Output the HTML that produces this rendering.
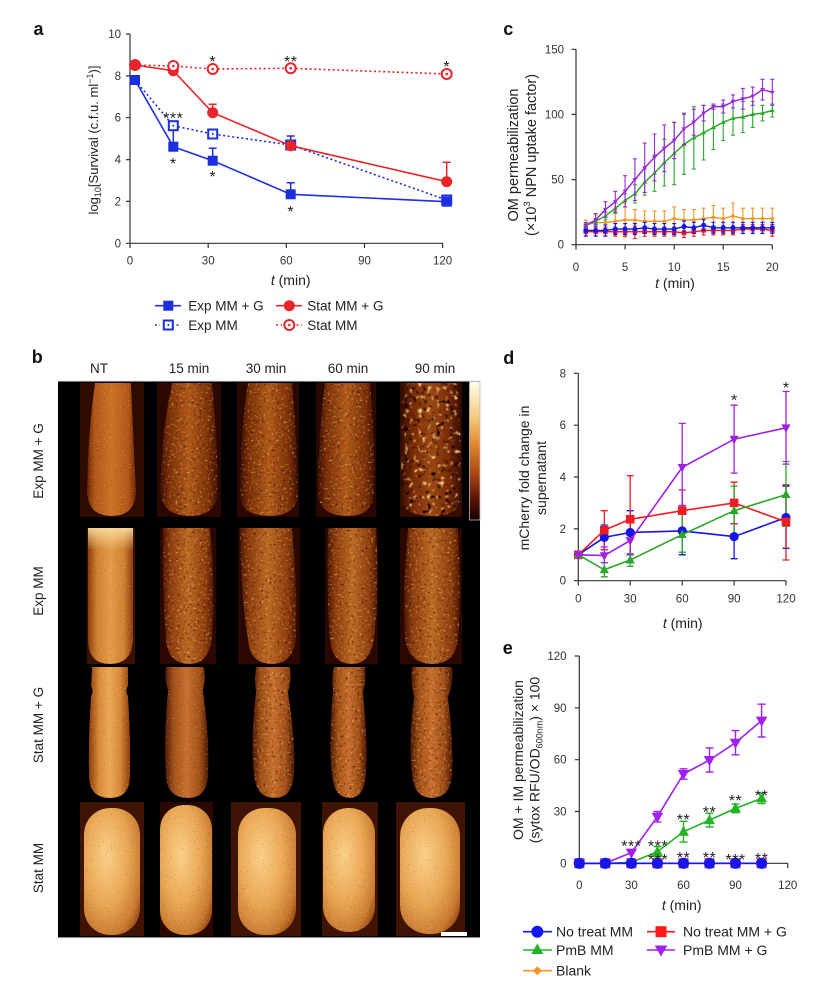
<!DOCTYPE html>
<html><head><meta charset="utf-8">
<style>
html,body{margin:0;padding:0;background:#fff;}
body{width:828px;height:998px;overflow:hidden;}
svg{display:block;font-family:"Liberation Sans",Arial,sans-serif;}
</style></head>
<body>
<svg width="828" height="998" viewBox="0 0 828 998" xmlns="http://www.w3.org/2000/svg">
<defs>
  <linearGradient id="gNT1" x1="0" x2="1" y1="0" y2="0">
    <stop offset="0" stop-color="#6a2404"/><stop offset="0.15" stop-color="#b45818"/><stop offset="0.5" stop-color="#d07626"/><stop offset="0.85" stop-color="#b45818"/><stop offset="1" stop-color="#6a2404"/>
  </linearGradient>
  <linearGradient id="gT" x1="0" x2="1" y1="0" y2="0">
    <stop offset="0" stop-color="#3a0e02"/><stop offset="0.15" stop-color="#7a3008"/><stop offset="0.5" stop-color="#b05a1a"/><stop offset="0.85" stop-color="#7a3008"/><stop offset="1" stop-color="#3a0e02"/>
  </linearGradient>
  <linearGradient id="gT2" x1="0" x2="1" y1="0" y2="0">
    <stop offset="0" stop-color="#4a1604"/><stop offset="0.15" stop-color="#8c3c0e"/><stop offset="0.5" stop-color="#bc6a24"/><stop offset="0.85" stop-color="#8c3c0e"/><stop offset="1" stop-color="#4a1604"/>
  </linearGradient>
  <linearGradient id="gT90" x1="0" x2="1" y1="0" y2="0">
    <stop offset="0" stop-color="#3a0e02"/><stop offset="0.2" stop-color="#7a2c08"/><stop offset="0.5" stop-color="#9a4812"/><stop offset="0.8" stop-color="#7a2c08"/><stop offset="1" stop-color="#3a0e02"/>
  </linearGradient>
  <linearGradient id="gNT2" x1="0" x2="1" y1="0" y2="0">
    <stop offset="0" stop-color="#8a3a0a"/><stop offset="0.2" stop-color="#d08030"/><stop offset="0.5" stop-color="#e29c4a"/><stop offset="0.8" stop-color="#d08030"/><stop offset="1" stop-color="#8a3a0a"/>
  </linearGradient>
  <linearGradient id="gTop" x1="0" x2="0" y1="0" y2="1">
    <stop offset="0" stop-color="#fbe0a0" stop-opacity="0.9"/><stop offset="1" stop-color="#fbe0a0" stop-opacity="0"/>
  </linearGradient>
  <linearGradient id="gNT3" x1="0" x2="1" y1="0" y2="0">
    <stop offset="0" stop-color="#8a3a0a"/><stop offset="0.25" stop-color="#d88a38"/><stop offset="0.5" stop-color="#eca858"/><stop offset="0.75" stop-color="#d88a38"/><stop offset="1" stop-color="#8a3a0a"/>
  </linearGradient>
  <linearGradient id="gT3" x1="0" x2="1" y1="0" y2="0">
    <stop offset="0" stop-color="#4a1604"/><stop offset="0.2" stop-color="#a05018"/><stop offset="0.5" stop-color="#c87030"/><stop offset="0.8" stop-color="#a05018"/><stop offset="1" stop-color="#4a1604"/>
  </linearGradient>
  <radialGradient id="gB" cx="0.4" cy="0.38" r="0.75">
    <stop offset="0" stop-color="#fad08a"/><stop offset="0.5" stop-color="#eaa856"/><stop offset="0.85" stop-color="#c87a30"/><stop offset="1" stop-color="#9a4a14"/>
  </radialGradient>
  <linearGradient id="gCB" x1="0" x2="0" y1="0" y2="1">
    <stop offset="0" stop-color="#fffcee"/><stop offset="0.25" stop-color="#f6cc80"/><stop offset="0.45" stop-color="#e08a30"/><stop offset="0.65" stop-color="#b04a14"/><stop offset="0.85" stop-color="#5a1404"/><stop offset="1" stop-color="#120000"/>
  </linearGradient>

  <filter id="fA" x="-5%" y="-5%" width="110%" height="110%" color-interpolation-filters="sRGB">
    <feTurbulence type="fractalNoise" baseFrequency="0.5" numOctaves="2" seed="5"/>
    <feGaussianBlur stdDeviation="0.45" result="t"/>
    <feColorMatrix in="t" type="matrix" values="0 0 0 0 0 0 0 0 0 0 0 0 0 0 0 4 0 0 0 -2.2" result="hi"/>
    <feFlood flood-color="#f2b865"/>
    <feComposite in2="hi" operator="in" result="hic"/>
    <feColorMatrix in="t" type="matrix" values="0 0 0 0 0 0 0 0 0 0 0 0 0 0 0 0 -4 0 0 1.8" result="lo"/>
    <feFlood flood-color="#3a0c00"/>
    <feComposite in2="lo" operator="in" result="loc"/>
    <feMerge><feMergeNode in="SourceGraphic"/><feMergeNode in="loc"/><feMergeNode in="hic"/></feMerge>
    <feComposite in2="SourceAlpha" operator="in"/>
  </filter>
  <filter id="fC" x="-5%" y="-5%" width="110%" height="110%" color-interpolation-filters="sRGB">
    <feTurbulence type="fractalNoise" baseFrequency="0.22" numOctaves="2" seed="9"/>
    <feGaussianBlur stdDeviation="0.6" result="t"/>
    <feColorMatrix in="t" type="matrix" values="0 0 0 0 0 0 0 0 0 0 0 0 0 0 0 5 0 0 0 -2.85" result="hi"/>
    <feFlood flood-color="#f3c47a"/>
    <feComposite in2="hi" operator="in" result="hic"/>
    <feColorMatrix in="t" type="matrix" values="0 0 0 0 0 0 0 0 0 0 0 0 0 0 0 0 -5 0 0 2.2" result="lo"/>
    <feFlood flood-color="#1a0400"/>
    <feComposite in2="lo" operator="in" result="loc"/>
    <feMerge><feMergeNode in="SourceGraphic"/><feMergeNode in="loc"/><feMergeNode in="hic"/></feMerge>
    <feComposite in2="SourceAlpha" operator="in"/>
  </filter>
  <filter id="fL" x="-5%" y="-5%" width="110%" height="110%" color-interpolation-filters="sRGB">
    <feTurbulence type="fractalNoise" baseFrequency="0.7" numOctaves="1" seed="2"/>
    <feGaussianBlur stdDeviation="0.35" result="t"/>
    <feColorMatrix in="t" type="matrix" values="0 0 0 0 0 0 0 0 0 0 0 0 0 0 0 2.5 0 0 0 -1.55" result="hi"/>
    <feFlood flood-color="#ffe2a8"/>
    <feComposite in2="hi" operator="in" result="hic"/>
    <feColorMatrix in="t" type="matrix" values="0 0 0 0 0 0 0 0 0 0 0 0 0 0 0 0 -3.5 0 0 1.15" result="lo"/>
    <feFlood flood-color="#6a2a08"/>
    <feComposite in2="lo" operator="in" result="loc"/>
    <feMerge><feMergeNode in="SourceGraphic"/><feMergeNode in="loc"/><feMergeNode in="hic"/></feMerge>
    <feComposite in2="SourceAlpha" operator="in"/>
  </filter>

  <marker id="mcP" viewBox="-4 -4 8 8" markerWidth="8" markerHeight="8" markerUnits="userSpaceOnUse"><path d="M0 2.6L2.4 -1.6L-2.4 -1.6Z" fill="#9a28d8"/></marker>
  <marker id="mcG" viewBox="-4 -4 8 8" markerWidth="8" markerHeight="8" markerUnits="userSpaceOnUse"><path d="M0 -2.6L2.4 1.6L-2.4 1.6Z" fill="#2aa82a"/></marker>
  <marker id="mcO" viewBox="-4 -4 8 8" markerWidth="8" markerHeight="8" markerUnits="userSpaceOnUse"><path d="M0 -2.4L2.4 0L0 2.4L-2.4 0Z" fill="#f29422"/></marker>
  <marker id="mcB" viewBox="-4 -4 8 8" markerWidth="8" markerHeight="8" markerUnits="userSpaceOnUse"><circle r="2.5" fill="#1515e8"/></marker>
  <marker id="mcR" viewBox="-4 -4 8 8" markerWidth="8" markerHeight="8" markerUnits="userSpaceOnUse"><rect x="-2.3" y="-2.3" width="4.6" height="4.6" fill="#ee1c24"/></marker>
  <marker id="mdB" viewBox="-6 -6 12 12" markerWidth="12" markerHeight="12" markerUnits="userSpaceOnUse"><circle r="4.6" fill="#1515e8"/></marker>
  <marker id="mdR" viewBox="-6 -6 12 12" markerWidth="12" markerHeight="12" markerUnits="userSpaceOnUse"><rect x="-4.3" y="-4.3" width="8.6" height="8.6" fill="#ee1c24"/></marker>
  <marker id="mdG" viewBox="-6 -6 12 12" markerWidth="12" markerHeight="12" markerUnits="userSpaceOnUse"><path d="M0 -5L4.6 3.4L-4.6 3.4Z" fill="#2aa82a"/></marker>
  <marker id="mdP" viewBox="-6 -6 12 12" markerWidth="12" markerHeight="12" markerUnits="userSpaceOnUse"><path d="M0 5L4.6 -3.4L-4.6 -3.4Z" fill="#a020e0"/></marker>
  <marker id="meB" viewBox="-7 -7 14 14" markerWidth="14" markerHeight="14" markerUnits="userSpaceOnUse"><circle r="5.6" fill="#1515f0"/></marker>
  <marker id="meR" viewBox="-7 -7 14 14" markerWidth="14" markerHeight="14" markerUnits="userSpaceOnUse"><rect x="-5" y="-5" width="10" height="10" fill="#ff1a1a"/></marker>
  <marker id="meG" viewBox="-7 -7 14 14" markerWidth="14" markerHeight="14" markerUnits="userSpaceOnUse"><path d="M0 -6L5.4 4L-5.4 4Z" fill="#22b422"/></marker>
  <marker id="meP" viewBox="-7 -7 14 14" markerWidth="14" markerHeight="14" markerUnits="userSpaceOnUse"><path d="M0 6L5.8 -4L-5.8 -4Z" fill="#a020f0"/></marker>
</defs>

<rect width="828" height="998" fill="#fff"/>

<!-- ================= PANEL A ================= -->
<text x="33.5" y="35" font-size="18" font-weight="bold" fill="#111">a</text>
<g stroke="#333" stroke-width="1.2" fill="none">
  <path d="M130 34V243.3H443"/>
  <path d="M126 243.3H130M126 201.4H130M126 159.6H130M126 117.7H130M126 75.9H130M126 34H130"/>
  <path d="M130 243.3V248M208.2 243.3V248M286.3 243.3V248M364.5 243.3V248M442.6 243.3V248"/>
</g>
<g font-size="11.5" fill="#333" text-anchor="end">
  <text x="121" y="247.3">0</text><text x="121" y="205.4">2</text><text x="121" y="163.6">4</text><text x="121" y="121.7">6</text><text x="121" y="79.9">8</text><text x="121" y="38">10</text>
</g>
<g font-size="11.5" fill="#333" text-anchor="middle">
  <text x="130" y="264.5">0</text><text x="208.2" y="264.5">30</text><text x="286.3" y="264.5">60</text><text x="364.5" y="264.5">90</text><text x="442.6" y="264.5">120</text>
</g>
<text x="290.7" y="285" font-size="14" fill="#222" text-anchor="middle"><tspan font-style="italic">t</tspan> (min)</text>
<text transform="translate(98 140) rotate(-90)" font-size="13" fill="#222" text-anchor="middle">log<tspan font-size="9" dy="3">10</tspan><tspan dy="-3">[Survival (c.f.u. ml</tspan><tspan font-size="9" dy="-5">−1</tspan><tspan dy="5">)]</tspan></text>

<path d="M135 65L173.3 66L212.7 69L290.7 68.3L446.7 74" stroke="#e8252a" stroke-width="1.6" fill="none" stroke-dasharray="2 2.6"/>
<path d="M135 80L173.3 125.7L212.7 134L290.7 145L446.7 200" stroke="#1b2ee0" stroke-width="1.6" fill="none" stroke-dasharray="2 2.6"/>
<path d="M135 80L173.3 146.7L212.7 160.7L290.7 194.3L446.7 201.7" stroke="#1b2ee0" stroke-width="1.6" fill="none"/>
<path d="M135 65L173.3 70.7L212.7 112.7L290.7 145.7L446.7 181.7" stroke="#e8252a" stroke-width="1.6" fill="none"/>
<g stroke-width="1.5" fill="none">
  <path d="M212.7 160.7V148.3M208.7 148.3h8M290.7 194.3V182.7M286.7 182.7h8" stroke="#1b2ee0"/>
  <path d="M173.3 125.7V146M290.7 145V136M286.7 136h8" stroke="#1b2ee0"/>
  <path d="M212.7 112.7V104.3M208.7 104.3h8M446.7 181.7V162.3M442.7 162.3h8" stroke="#e8252a"/>
</g>
<g fill="#fff" stroke="#1b2ee0" stroke-width="2">
  <rect x="168.8" y="121.2" width="9" height="9"/><rect x="208.2" y="129.5" width="9" height="9"/><rect x="286.2" y="140.5" width="9" height="9"/><rect x="442.2" y="195.5" width="9" height="9"/>
</g>
<g fill="#1b2ee0">
  <circle cx="173.3" cy="125.7" r="1"/><circle cx="212.7" cy="134" r="1"/>
  <rect x="130" y="75" width="10" height="10"/><rect x="168.3" y="141.7" width="10" height="10"/><rect x="207.7" y="155.7" width="10" height="10"/><rect x="285.7" y="189.3" width="10" height="10"/><rect x="441.7" y="196.7" width="10" height="10"/>
</g>
<g fill="#e8252a">
  <circle cx="173.3" cy="70.7" r="5.5"/><circle cx="212.7" cy="112.7" r="5.5"/><circle cx="290.7" cy="145.7" r="5.5"/><circle cx="446.7" cy="181.7" r="5.5"/>
</g>
<g fill="#fff" stroke="#e8252a" stroke-width="2">
  <circle cx="173.3" cy="66" r="5"/><circle cx="212.7" cy="69" r="5"/><circle cx="290.7" cy="68.3" r="5"/><circle cx="446.7" cy="74" r="5"/>
</g>
<g fill="#e8252a">
  <circle cx="173.3" cy="66" r="1.3"/><circle cx="212.7" cy="69" r="1.3"/><circle cx="290.7" cy="68.3" r="1.3"/><circle cx="446.7" cy="74" r="1.3"/>
  <circle cx="135" cy="65" r="6"/>
</g>
<g font-size="16" fill="#222" text-anchor="middle" letter-spacing="0.5">
  <text x="212.7" y="67">*</text><text x="290.7" y="67">**</text><text x="446.7" y="72">*</text>
  <text x="173.3" y="123.3">***</text><text x="173.3" y="169">*</text><text x="212.7" y="182">*</text><text x="290.7" y="217">*</text>
</g>
<path d="M155 305.7H181" stroke="#1b2ee0" stroke-width="1.6"/>
<rect x="163.3" y="300.7" width="10" height="10" fill="#1b2ee0"/>
<text x="188.3" y="310.5" font-size="13.5" fill="#222">Exp MM + G</text>
<path d="M276 305.7H302" stroke="#e8252a" stroke-width="1.6"/>
<circle cx="289.3" cy="305.7" r="5.5" fill="#e8252a"/>
<text x="307.3" y="310.5" font-size="13.5" fill="#222">Stat MM + G</text>
<path d="M155 325H160M176.5 325H181" stroke="#1b2ee0" stroke-width="1.6" stroke-dasharray="2 2.6"/>
<rect x="163.8" y="320.5" width="9" height="9" fill="#fff" stroke="#1b2ee0" stroke-width="2"/>
<circle cx="168.3" cy="325" r="1" fill="#1b2ee0"/>
<text x="188.3" y="329.8" font-size="13.5" fill="#222">Exp MM</text>
<path d="M276 325H282M296.5 325H302" stroke="#e8252a" stroke-width="1.6" stroke-dasharray="2 2.6"/>
<circle cx="289.3" cy="325" r="5" fill="#fff" stroke="#e8252a" stroke-width="2"/>
<circle cx="289.3" cy="325" r="1.3" fill="#e8252a"/>
<text x="307.3" y="329.8" font-size="13.5" fill="#222">Stat MM</text>

<!-- ================= PANEL C ================= -->
<text x="503.3" y="35" font-size="18" font-weight="bold" fill="#111">c</text>
<g stroke="#333" stroke-width="1.2" fill="none">
  <path d="M576 49.3V244.7H772.3"/>
  <path d="M571.5 244.7H576M571.5 179.6H576M571.5 114.4H576M571.5 49.3H576"/>
  <path d="M576 244.7V249.5M625.1 244.7V249.5M674.2 244.7V249.5M723.2 244.7V249.5M772.3 244.7V249.5"/>
</g>
<g font-size="11.5" fill="#333" text-anchor="end">
  <text x="564" y="248.7">0</text><text x="564" y="183.6">50</text><text x="564" y="118.4">100</text><text x="564" y="53.3">150</text>
</g>
<g font-size="11.5" fill="#333" text-anchor="middle">
  <text x="576" y="271">0</text><text x="625.1" y="271">5</text><text x="674.2" y="271">10</text><text x="723.2" y="271">15</text><text x="772.3" y="271">20</text>
</g>
<text x="675" y="288" font-size="14" fill="#222" text-anchor="middle"><tspan font-style="italic">t</tspan> (min)</text>
<text transform="translate(518 155) rotate(-90)" font-size="14.5" fill="#222" text-anchor="middle">OM permeabilization</text>
<text transform="translate(536 155) rotate(-90)" font-size="14.5" fill="#222" text-anchor="middle">(×10<tspan font-size="9.5" dy="-6">3</tspan><tspan dy="6"> NPN uptake factor)</tspan></text>

<path d="M585.8 220.2V230.2m-2 0h4M583.8 220.2h4M595.6 214.8V230.4m-2 0h4M593.6 214.8h4M605.4 212.2V233m-2 0h4M603.4 212.2h4M615.3 210.9V231.7m-2 0h4M613.3 210.9h4M625.1 203V237m-2 0h4M623.1 203h4M634.9 209.6V230.4m-2 0h4M632.9 209.6h4M644.7 210.9V231.7m-2 0h4M642.7 210.9h4M654.5 210.9V231.7m-2 0h4M652.5 210.9h4M664.3 210.9V231.7m-2 0h4M662.3 210.9h4M674.2 206.9V230.3m-2 0h4M672.2 206.9h4M684 209.6V230.4m-2 0h4M682 209.6h4M693.8 209.6V230.4m-2 0h4M691.8 209.6h4M703.6 208.2V229m-2 0h4M701.6 208.2h4M713.4 205.6V229m-2 0h4M711.4 205.6h4M723.2 208.2V229m-2 0h4M721.2 208.2h4M733 203V229m-2 0h4M731 203h4M742.9 208.2V229m-2 0h4M740.9 208.2h4M752.7 208.2V229m-2 0h4M750.7 208.2h4M762.5 208.2V229m-2 0h4M760.5 208.2h4M772.3 208.2V229m-2 0h4M770.3 208.2h4" stroke="#f29422" stroke-width="1.1" fill="none"/>
<path d="M585.8 225.2L595.6 222.6L605.4 222.6L615.3 221.3L625.1 220L634.9 220L644.7 221.3L654.5 221.3L664.3 221.3L674.2 218.6L684 220L693.8 220L703.6 218.6L713.4 217.3L723.2 218.6L733 216L742.9 218.6L752.7 218.6L762.5 218.6L772.3 218.6" stroke="#f29422" stroke-width="1.4" fill="none" marker-start="url(#mcO)" marker-mid="url(#mcO)" marker-end="url(#mcO)"/>
<path d="M585.8 227.2V236.2m-2 0h4M583.8 227.2h4M595.6 227.2V236.2m-2 0h4M593.6 227.2h4M605.4 227.2V236.2m-2 0h4M603.4 227.2h4M615.3 227.2V236.2m-2 0h4M613.3 227.2h4M625.1 227.2V236.2m-2 0h4M623.1 227.2h4M634.9 226V238.5m-2 0h4M632.9 226h4M644.7 227.2V236.2m-2 0h4M642.7 227.2h4M654.5 227.2V236.2m-2 0h4M652.5 227.2h4M664.3 227.2V236.2m-2 0h4M662.3 227.2h4M674.2 227.2V236.2m-2 0h4M672.2 227.2h4M684 228.5V237.5m-2 0h4M682 228.5h4M693.8 227.2V236.2m-2 0h4M691.8 227.2h4M703.6 225.9V234.9m-2 0h4M701.6 225.9h4M713.4 225.9V234.9m-2 0h4M711.4 225.9h4M723.2 225.9V234.9m-2 0h4M721.2 225.9h4M733 225.9V234.9m-2 0h4M731 225.9h4M742.9 224.6V233.6m-2 0h4M740.9 224.6h4M752.7 224.6V233.6m-2 0h4M750.7 224.6h4M762.5 224.6V233.6m-2 0h4M760.5 224.6h4M772.3 224.6V236.2m-2 0h4M770.3 224.6h4" stroke="#ee1c24" stroke-width="1.1" fill="none"/>
<path d="M585.8 231.7L595.6 231.7L605.4 231.7L615.3 231.7L625.1 231.7L634.9 231.7L644.7 231.7L654.5 231.7L664.3 231.7L674.2 231.7L684 233L693.8 231.7L703.6 230.4L713.4 230.4L723.2 230.4L733 230.4L742.9 229.1L752.7 229.1L762.5 229.1L772.3 230.4" stroke="#ee1c24" stroke-width="1.4" fill="none" marker-start="url(#mcR)" marker-mid="url(#mcR)" marker-end="url(#mcR)"/>
<path d="M585.8 224.9V235.9m-2 0h4M583.8 224.9h4M595.6 224.9V235.9m-2 0h4M593.6 224.9h4M605.4 224.9V235.9m-2 0h4M603.4 224.9h4M615.3 223.6V234.6m-2 0h4M613.3 223.6h4M625.1 223.6V234.6m-2 0h4M623.1 223.6h4M634.9 223.6V234.6m-2 0h4M632.9 223.6h4M644.7 222.3V233.3m-2 0h4M642.7 222.3h4M654.5 223.6V234.6m-2 0h4M652.5 223.6h4M664.3 223.6V234.6m-2 0h4M662.3 223.6h4M674.2 223.6V234.6m-2 0h4M672.2 223.6h4M684 221V232m-2 0h4M682 221h4M693.8 222.3V233.3m-2 0h4M691.8 222.3h4M703.6 219.7V230.7m-2 0h4M701.6 219.7h4M713.4 222.3V233.3m-2 0h4M711.4 222.3h4M723.2 222.3V233.3m-2 0h4M721.2 222.3h4M733 222.3V233.3m-2 0h4M731 222.3h4M742.9 222.3V233.3m-2 0h4M740.9 222.3h4M752.7 222.3V233.3m-2 0h4M750.7 222.3h4M762.5 222.3V233.3m-2 0h4M760.5 222.3h4M772.3 222.3V233.3m-2 0h4M770.3 222.3h4" stroke="#1515e8" stroke-width="1.1" fill="none"/>
<path d="M585.8 230.4L595.6 230.4L605.4 230.4L615.3 229.1L625.1 229.1L634.9 229.1L644.7 227.8L654.5 229.1L664.3 229.1L674.2 229.1L684 226.5L693.8 227.8L703.6 225.2L713.4 227.8L723.2 227.8L733 227.8L742.9 227.8L752.7 227.8L762.5 227.8L772.3 227.8" stroke="#1515e8" stroke-width="1.4" fill="none" marker-start="url(#mcB)" marker-mid="url(#mcB)" marker-end="url(#mcB)"/>
<path d="M585.8 222.6V227.8m-2 0h4M583.8 222.6h4M595.6 218.6V223.8m-2 0h4M593.6 218.6h4M605.4 212.1V219.9m-2 0h4M603.4 212.1h4M615.3 203V213.4m-2 0h4M613.3 203h4M625.1 193.9V206.9m-2 0h4M623.1 193.9h4M634.9 184.8V203m-2 0h4M632.9 184.8h4M644.7 169.2V195.2m-2 0h4M642.7 169.2h4M654.5 154.9V191.3m-2 0h4M652.5 154.9h4M664.3 139.2V186m-2 0h4M662.3 139.2h4M674.2 122.3V184.7m-2 0h4M672.2 122.3h4M684 114.5V174.3m-2 0h4M682 114.5h4M693.8 106.7V169.1m-2 0h4M691.8 106.7h4M703.6 105.4V160m-2 0h4M701.6 105.4h4M713.4 105.4V149.6m-2 0h4M711.4 105.4h4M723.2 104.1V140.5m-2 0h4M721.2 104.1h4M733 101.4V135.2m-2 0h4M731 101.4h4M742.9 101.4V132.6m-2 0h4M740.9 101.4h4M752.7 101.4V127.4m-2 0h4M750.7 101.4h4M762.5 105.3V120.9m-2 0h4M760.5 105.3h4M772.3 104V117m-2 0h4M770.3 104h4" stroke="#2aa82a" stroke-width="1.1" fill="none"/>
<path d="M585.8 225.2L595.6 221.2L605.4 216L615.3 208.2L625.1 200.4L634.9 193.9L644.7 182.2L654.5 173.1L664.3 162.6L674.2 153.5L684 144.4L693.8 137.9L703.6 132.7L713.4 127.5L723.2 122.3L733 118.3L742.9 117L752.7 114.4L762.5 113.1L772.3 110.5" stroke="#2aa82a" stroke-width="1.5" fill="none" marker-start="url(#mcG)" marker-mid="url(#mcG)" marker-end="url(#mcG)"/>
<path d="M585.8 222.6V227.8m-2 0h4M583.8 222.6h4M595.6 213.5V226.5m-2 0h4M593.6 213.5h4M605.4 201.7V217.3m-2 0h4M603.4 201.7h4M615.3 191.3V212.1m-2 0h4M613.3 191.3h4M625.1 175.7V206.9m-2 0h4M623.1 175.7h4M634.9 158.8V200.4m-2 0h4M632.9 158.8h4M644.7 143.1V192.5m-2 0h4M642.7 143.1h4M654.5 134V180.8m-2 0h4M652.5 134h4M664.3 124.9V171.7m-2 0h4M662.3 124.9h4M674.2 122.3V158.7m-2 0h4M672.2 122.3h4M684 113.2V144.4m-2 0h4M682 113.2h4M693.8 109.2V135.2m-2 0h4M691.8 109.2h4M703.6 105.3V120.9m-2 0h4M701.6 105.3h4M713.4 104V109.2m-2 0h4M711.4 104h4M723.2 100.1V113.1m-2 0h4M721.2 100.1h4M733 94.9V107.9m-2 0h4M731 94.9h4M742.9 88.4V109.2m-2 0h4M740.9 88.4h4M752.7 87.1V105.3m-2 0h4M750.7 87.1h4M762.5 79.3V100.1m-2 0h4M760.5 79.3h4M772.3 79.3V105.3m-2 0h4M770.3 79.3h4" stroke="#9a28d8" stroke-width="1.1" fill="none"/>
<path d="M585.8 225.2L595.6 220L605.4 209.5L615.3 201.7L625.1 191.3L634.9 179.6L644.7 167.8L654.5 157.4L664.3 148.3L674.2 140.5L684 128.8L693.8 122.2L703.6 113.1L713.4 106.6L723.2 106.6L733 101.4L742.9 98.8L752.7 96.2L762.5 89.7L772.3 92.3" stroke="#9a28d8" stroke-width="1.5" fill="none" marker-start="url(#mcP)" marker-mid="url(#mcP)" marker-end="url(#mcP)"/>

<!-- ================= PANEL B ================= -->
<text x="31.7" y="363" font-size="18" font-weight="bold" fill="#111">b</text>
<g font-size="13.5" fill="#222" text-anchor="middle">
  <text x="99" y="373">NT</text><text x="189" y="373">15 min</text><text x="266" y="373">30 min</text><text x="348" y="373">60 min</text><text x="435" y="373">90 min</text>
</g>
<g font-size="13.5" fill="#222" text-anchor="middle">
  <text transform="translate(43 461) rotate(-90)">Exp MM + G</text>
  <text transform="translate(43 591) rotate(-90)">Exp MM</text>
  <text transform="translate(43 725) rotate(-90)">Stat MM + G</text>
  <text transform="translate(43 868) rotate(-90)">Stat MM</text>
</g>
<rect x="58" y="381" width="422" height="557" fill="#000"/>
<path d="M58 381.3H480" stroke="#999" stroke-width="0.8"/>
<path d="M58 937.7H480" stroke="#bbb" stroke-width="0.8"/>
<rect x="80" y="383" width="64" height="134" fill="#2e0a01"/>
<rect x="157" y="383" width="64" height="134" fill="#2a0801"/>
<rect x="237" y="383" width="62" height="134" fill="#2a0801"/>
<rect x="316" y="383" width="60" height="134" fill="#2a0801"/>
<rect x="400" y="383" width="62" height="134" fill="#340c02"/>
<path d="M95 383L131 383Q134 450 136 490Q136 516 112 516Q87 516 87 490Q88 430 95 383Z" fill="url(#gNT1)" filter="url(#fL)" opacity="0.97"/>
<path d="M172 383L212 383Q218 450 218 490Q217 516 190 516Q161 516 160 490Q162 430 172 383Z" fill="url(#gT)" filter="url(#fA)"/>
<path d="M248 383L292 383Q298 450 298 495Q296 516 270 516Q240 516 240 495Q240 430 248 383Z" fill="url(#gT)" filter="url(#fA)"/>
<path d="M325 383L370 383Q376 450 374 495Q372 516 348 516Q320 516 318 495Q318 430 325 383Z" fill="url(#gT)" filter="url(#fA)"/>
<path d="M404 383L458 383Q462 450 460 500Q458 516 432 516Q404 516 402 500Q400 430 404 383Z" fill="url(#gT90)" filter="url(#fC)"/>
<rect x="87" y="528" width="48" height="136" fill="#3a1204"/>
<rect x="160" y="528" width="56" height="136" fill="#2a0801"/>
<rect x="238" y="528" width="62" height="136" fill="#2a0801"/>
<rect x="325" y="528" width="53" height="136" fill="#2a0801"/>
<rect x="400" y="528" width="62" height="136" fill="#2a0801"/>
<path d="M88 528L133 528L133 640Q132 664 110 664Q88 664 88 640Z" fill="url(#gNT2)" filter="url(#fL)"/>
<rect x="88" y="528" width="45" height="22" fill="url(#gTop)"/>
<path d="M163 528L210 528Q216 590 212 640Q208 664 190 664Q168 664 166 640Q162 590 163 528Z" fill="url(#gT2)" filter="url(#fA)"/>
<path d="M240 528L292 528Q298 590 296 640Q292 664 272 664Q250 664 248 640Q240 590 240 528Z" fill="url(#gT2)" filter="url(#fA)"/>
<path d="M328 528L376 528Q380 590 374 640Q370 664 352 664Q332 664 330 640Q326 590 328 528Z" fill="url(#gT2)" filter="url(#fA)"/>
<path d="M408 528L458 528Q462 590 458 640Q455 664 432 664Q410 664 405 640Q402 590 408 528Z" fill="url(#gT2)" filter="url(#fA)"/>
<path d="M92 667H128V686Q125 691 128 696Q131 740 130 778Q129 798 110 798Q90 798 89 778Q88 740 91 696Q94 691 91 686Z" fill="url(#gNT3)" filter="url(#fL)"/>
<path d="M166 667H204Q206 680 203 690Q210 740 208 778Q206 798 188 798Q168 798 166 778Q163 740 168 690Q164 680 166 667Z" fill="url(#gT3)" filter="url(#fL)"/>
<path d="M256 667H290Q292 680 288 692Q296 740 294 775Q292 798 275 798Q256 798 254 775Q250 740 256 692Q254 680 256 667Z" fill="url(#gT3)" filter="url(#fA)"/>
<path d="M334 667H365Q367 680 363 692Q368 740 366 775Q364 798 350 798Q334 798 332 775Q328 740 333 692Q331 680 334 667Z" fill="url(#gT3)" filter="url(#fA)"/>
<path d="M412 667H452Q454 682 448 697Q454 740 452 775Q450 798 432 798Q414 798 412 775Q408 740 414 697Q410 682 412 667Z" fill="url(#gT3)" filter="url(#fA)"/>
<rect x="80" y="802" width="64" height="134" fill="#401404"/>
<rect x="160" y="802" width="53" height="134" fill="#2a0801"/>
<rect x="231" y="802" width="70" height="134" fill="#401404"/>
<rect x="322" y="802" width="56" height="134" fill="#401404"/>
<rect x="396" y="802" width="69" height="134" fill="#401404"/>
<rect x="84" y="808" width="56" height="127" rx="26" fill="url(#gB)" filter="url(#fL)"/>
<rect x="160" y="805" width="52" height="130" rx="24" fill="url(#gB)" filter="url(#fL)"/>
<rect x="238" y="808" width="58" height="127" rx="26" fill="url(#gB)" filter="url(#fL)"/>
<rect x="323" y="808" width="52" height="124" rx="25" fill="url(#gB)" filter="url(#fL)"/>
<rect x="400" y="808" width="60" height="126" rx="28" fill="url(#gB)" filter="url(#fL)"/>
<rect x="441" y="932" width="26" height="4" fill="#fff"/>
<rect x="469.5" y="381.5" width="10.5" height="138.5" fill="url(#gCB)" stroke="#bbb" stroke-width="0.8"/>

<!-- ================= PANEL D ================= -->
<text x="503.3" y="364" font-size="18" font-weight="bold" fill="#111">d</text>
<g stroke="#333" stroke-width="1.2" fill="none">
  <path d="M578.3 373.3V580.7H786"/>
  <path d="M573.8 580.7H578.3M573.8 528.9H578.3M573.8 477H578.3M573.8 425.2H578.3M573.8 373.3H578.3"/>
  <path d="M578.3 580.7V585.5M630.2 580.7V585.5M682.2 580.7V585.5M734.1 580.7V585.5M786 580.7V585.5"/>
</g>
<g font-size="11.5" fill="#333" text-anchor="end">
  <text x="566" y="584.7">0</text><text x="566" y="532.9">2</text><text x="566" y="481">4</text><text x="566" y="429.2">6</text><text x="566" y="377.3">8</text>
</g>
<g font-size="11.5" fill="#333" text-anchor="middle">
  <text x="578.3" y="602.3">0</text><text x="630.2" y="602.3">30</text><text x="682.2" y="602.3">60</text><text x="734.1" y="602.3">90</text><text x="786" y="602.3">120</text>
</g>
<text x="682.7" y="628" font-size="14" fill="#222" text-anchor="middle"><tspan font-style="italic">t</tspan> (min)</text>
<text transform="translate(529 478) rotate(-90)" font-size="14" fill="#222" text-anchor="middle">mCherry fold change in</text>
<text transform="translate(546 478) rotate(-90)" font-size="14" fill="#222" text-anchor="middle">supernatant</text>
<g stroke-width="1.3" fill="none">
  <path d="M604.3 525V549.6m-3.5 0h7M600.8 525h7M630.2 510.7V554.8m-3.5 0h7M626.7 510.7h7M682.2 505.5V554.8m-3.5 0h7M678.7 505.5h7M734.1 523.7V558.7m-3.5 0h7M730.6 523.7h7M786 486.1V548.3m-3.5 0h7M782.5 486.1h7" stroke="#1515e8"/>
  <path d="M604.3 510.7V549.6m-3.5 0h7M600.8 510.7h7M630.2 475.7V562.6m-3.5 0h7M626.7 475.7h7M682.2 490V531.5m-3.5 0h7M678.7 490h7M734.1 482.2V523.7m-3.5 0h7M730.6 482.2h7M786 484.8V560m-3.5 0h7M782.5 484.8h7" stroke="#ee1c24"/>
  <path d="M604.3 562.6V576.8m-3.5 0h7M600.8 562.6h7M630.2 553.5V566.4m-3.5 0h7M626.7 553.5h7M682.2 513.3V552.2m-3.5 0h7M678.7 513.3h7M734.1 486.1V534m-3.5 0h7M730.6 486.1h7M786 461.5V526.3m-3.5 0h7M782.5 461.5h7" stroke="#2aa82a"/>
  <path d="M604.3 547V562.6m-3.5 0h7M600.8 547h7M630.2 534V554.8m-3.5 0h7M626.7 534h7M682.2 423.4V505.5m-3.5 0h7M678.7 423.4h7M734.1 405.2V473.1m-3.5 0h7M730.6 405.2h7M786 391.5V464.1m-3.5 0h7M782.5 391.5h7" stroke="#a020e0"/>
</g>
<path d="M578.3 554.8L604.3 537.4L630.2 532.5L682.2 530.9L734.1 536.6L786 517.5" stroke="#1515e8" stroke-width="1.6" fill="none" marker-start="url(#mdB)" marker-mid="url(#mdB)" marker-end="url(#mdB)"/>
<path d="M578.3 554.8L604.3 530.2L630.2 519.3L682.2 510.7L734.1 502.9L786 521.9" stroke="#ee1c24" stroke-width="1.6" fill="none" marker-start="url(#mdR)" marker-mid="url(#mdR)" marker-end="url(#mdR)"/>
<path d="M578.3 554.8L604.3 569.8L630.2 560L682.2 534.6L734.1 510.7L786 494.6" stroke="#2aa82a" stroke-width="1.6" fill="none" marker-start="url(#mdG)" marker-mid="url(#mdG)" marker-end="url(#mdG)"/>
<path d="M578.3 554.8L604.3 555.6L630.2 540.5L682.2 467.4L734.1 439.2L786 427.8" stroke="#a020e0" stroke-width="1.6" fill="none" marker-start="url(#mdP)" marker-mid="url(#mdP)" marker-end="url(#mdP)"/>
<g font-size="16" fill="#222" text-anchor="middle">
  <text x="734.1" y="405.7">*</text><text x="786" y="393">*</text>
</g>

<!-- ================= PANEL E ================= -->
<text x="502.7" y="654" font-size="18" font-weight="bold" fill="#111">e</text>
<g stroke="#333" stroke-width="1.2" fill="none">
  <path d="M579.3 656V863.3H787.7"/>
  <path d="M574.8 863.3H579.3M574.8 811.5H579.3M574.8 759.7H579.3M574.8 707.8H579.3M574.8 656H579.3"/>
  <path d="M579.3 863.3V868M631.4 863.3V868M683.5 863.3V868M735.5 863.3V868M787.7 863.3V868"/>
</g>
<g font-size="11.5" fill="#333" text-anchor="end">
  <text x="566.5" y="867.3">0</text><text x="566.5" y="815.5">30</text><text x="566.5" y="763.7">60</text><text x="566.5" y="711.8">90</text><text x="566.5" y="660">120</text>
</g>
<g font-size="11.5" fill="#333" text-anchor="middle">
  <text x="579.3" y="889">0</text><text x="631.4" y="889">30</text><text x="683.5" y="889">60</text><text x="735.5" y="889">90</text><text x="787.7" y="889">120</text>
</g>
<text x="681.7" y="910" font-size="14" fill="#222" text-anchor="middle"><tspan font-style="italic">t</tspan> (min)</text>
<text transform="translate(523 760) rotate(-90)" font-size="14" fill="#222" text-anchor="middle">OM + IM permeabilization</text>
<text transform="translate(539.5 760) rotate(-90)" font-size="14" fill="#222" text-anchor="middle">(sytox RFU/OD<tspan font-size="9" dy="3">600nm</tspan><tspan dy="-3">) × 100</tspan></text>
<path d="M579.3 863.3L605.3 863.3L631.4 863.3L657.4 863.3L683.5 863.3L709.5 863.3L735.5 863.3L761.6 863.3" stroke="#ff1a1a" stroke-width="1.6" fill="none" marker-start="url(#meR)" marker-mid="url(#meR)" marker-end="url(#meR)"/>
<g stroke-width="1.4" fill="none">
  <path d="M657.4 846.5V856.9m-4 0h8M653.4 846.5h8M683.5 821.3V842.1m-4 0h8M679.5 821.3h8M709.5 813.2V827m-4 0h8M705.5 813.2h8M735.5 804.1V812.7m-4 0h8M731.5 804.1h8M761.6 793.2V803.6m-4 0h8M757.6 793.2h8" stroke="#22b422"/>
  <path d="M657.4 811.5V821.9m-4 0h8M653.4 811.5h8M683.5 768.8V779.2m-4 0h8M679.5 768.8h8M709.5 747.9V772.1m-4 0h8M705.5 747.9h8M735.5 730.6V754.8m-4 0h8M731.5 730.6h8M761.6 704.2V737m-4 0h8M757.6 704.2h8" stroke="#a020f0"/>
</g>
<path d="M579.3 863.3L605.3 863.3L631.4 862.4L657.4 851.7L683.5 831.7L709.5 820.1L735.5 808.4L761.6 798.4" stroke="#22b422" stroke-width="1.6" fill="none" marker-start="url(#meG)" marker-mid="url(#meG)" marker-end="url(#meG)"/>
<path d="M579.3 863.3L605.3 863.3L631.4 852.6L657.4 816.7L683.5 774L709.5 760L735.5 742.7L761.6 720.6" stroke="#a020f0" stroke-width="1.6" fill="none" marker-start="url(#meP)" marker-mid="url(#meP)" marker-end="url(#meP)"/>
<path d="M579.3 863.3L605.3 863.3L631.4 863.3L657.4 863.3L683.5 863.3L709.5 863.3L735.5 863.3L761.6 863.3" stroke="#1515f0" stroke-width="1.6" fill="none" marker-start="url(#meB)" marker-mid="url(#meB)" marker-end="url(#meB)"/>
<g font-size="16" fill="#222" text-anchor="middle" letter-spacing="0.5">
  <text x="631.4" y="851.7">***</text>
  <text x="658" y="851.7">***</text><text x="658" y="865">***</text>
  <text x="683.5" y="825">**</text><text x="683.5" y="863">**</text>
  <text x="709.5" y="817.3">**</text><text x="709.5" y="863">**</text>
  <text x="735.5" y="806">**</text><text x="735.5" y="865">***</text>
  <text x="761.6" y="801">**</text><text x="761.6" y="864">**</text>
</g>
<g stroke-width="1.6">
  <path d="M523 931.7H552" stroke="#1515f0"/>
  <path d="M647 931.7H675" stroke="#ff1a1a"/>
  <path d="M523 950H552" stroke="#22b422"/>
  <path d="M647 950H675" stroke="#a020f0"/>
  <path d="M523 970.7H552" stroke="#f29422"/>
</g>
<circle cx="537.3" cy="931.7" r="6" fill="#1515f0"/>
<rect x="655.5" y="926.2" width="11" height="11" fill="#ff1a1a"/>
<path d="M537.3 943.5L543.3 954L531.3 954Z" fill="#22b422"/>
<path d="M661 956.5L667.3 945.5L654.7 945.5Z" fill="#a020f0"/>
<path d="M537.3 966.2L541.8 970.7L537.3 975.2L532.8 970.7Z" fill="#f29422"/>
<g font-size="14" fill="#222">
  <text x="556" y="936.5">No treat MM</text>
  <text x="683" y="936.5">No treat MM + G</text>
  <text x="556" y="955">PmB MM</text>
  <text x="683" y="955">PmB MM + G</text>
  <text x="556" y="975.5">Blank</text>
</g>
</svg>
</body></html>
